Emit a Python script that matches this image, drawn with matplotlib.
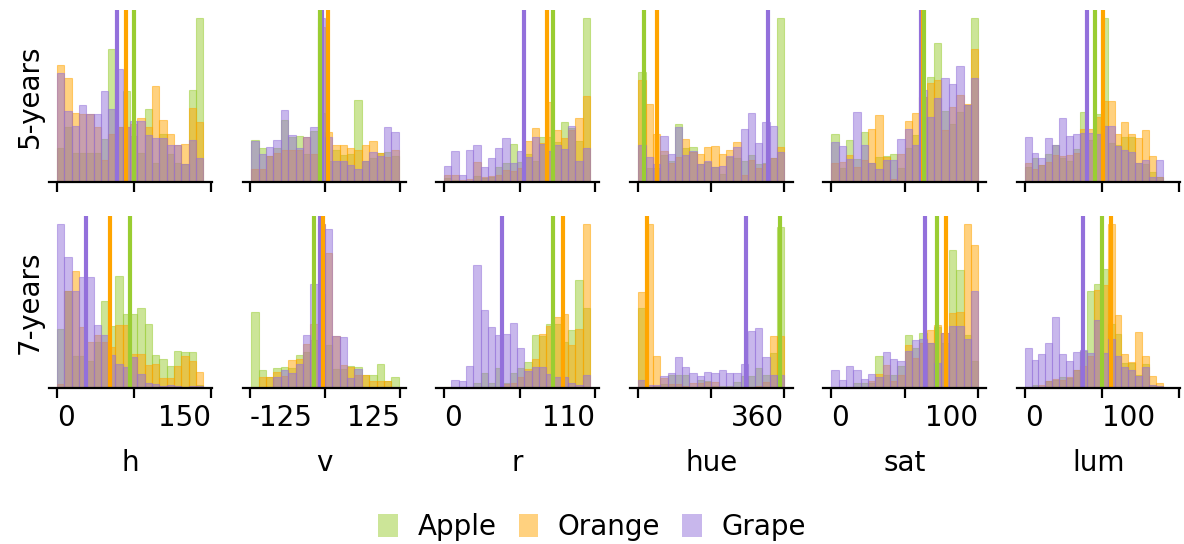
import numpy as np
import matplotlib.pyplot as plt
from matplotlib.patches import Patch

features = ["h", "v", "r", "hue", "sat", "lum"]
periods = ["5-years", "7-years"]
fruits = ["Apple", "Orange", "Grape"]
colors = ["yellowgreen", "orange", "mediumpurple"]

# bin range of the 20 bins in every column
bin_lo = [0, -122, 0, 0, 0, 0]
bin_hi = [142, 123, 106, 360, 100, 179.4]
x_limits = [(-7.8, 150.9), (-136.7, 135), (-5.8, 112.9), (-21.4, 381), (-5.5, 105.6), (-10.4, 201.6)]
tick_vals = [[0, 75, 150], [-125, 0, 125], [0, 55, 110], [0, 180, 360], [0, 50, 100], [0, 100, 200]]
tick_text = [["0", "", "150"], ["-125", "", "125"], ["0", "", "110"], ["", "", "360"], ["0", "", "100"], ["0", "100", ""]]

# bar heights, 5-years
h5_apple = [102, 162, 87, 87, 87, 87, 127, 395, 164, 270, 137, 87, 215, 57, 142, 82, 57, 52, 272, 485]
h5_orange = [347, 307, 205, 202, 200, 162, 65, 142, 164, 164, 172, 189, 164, 284, 185, 142, 109, 112, 219, 179]
h5_grape = [324, 209, 167, 227, 200, 202, 270, 215, 335, 164, 182, 180, 139, 129, 129, 110, 109, 52, 125, 72]
v5_apple = [132, 107, 80, 107, 194, 140, 143, 87, 159, 215, 64, 99, 84, 89, 257, 65, 75, 92, 95, 82]
v5_orange = [42, 42, 80, 90, 99, 100, 100, 140, 86, 485, 155, 117, 117, 105, 99, 117, 129, 92, 79, 101]
v5_grape = [129, 87, 110, 132, 224, 146, 107, 140, 173, 512, 142, 64, 64, 52, 39, 65, 95, 82, 172, 155]
r5_apple = [12, 7, 4, 4, 17, 12, 15, 44, 57, 113, 59, 82, 62, 134, 134, 117, 179, 159, 122, 485]
r5_orange = [22, 22, 7, 9, 59, 14, 17, 20, 35, 32, 42, 122, 161, 114, 236, 155, 129, 154, 189, 255]
r5_grape = [47, 92, 22, 95, 110, 44, 71, 101, 131, 57, 92, 74, 134, 112, 92, 110, 99, 167, 62, 102]
hue5_apple = [327, 42, 42, 80, 62, 172, 101, 104, 52, 59, 45, 25, 75, 70, 62, 80, 52, 55, 70, 485]
hue5_orange = [302, 230, 143, 92, 57, 74, 128, 90, 82, 104, 107, 82, 95, 119, 22, 64, 42, 54, 70, 104]
hue5_grape = [110, 74, 52, 137, 82, 164, 80, 92, 52, 62, 45, 47, 77, 104, 158, 203, 116, 179, 167, 89]
sat5_apple = [143, 42, 125, 67, 149, 56, 74, 77, 83, 42, 101, 140, 252, 311, 413, 209, 173, 206, 227, 485]
sat5_orange = [56, 59, 80, 44, 65, 158, 197, 74, 9, 82, 182, 203, 252, 293, 302, 155, 221, 257, 232, 395]
sat5_grape = [119, 107, 67, 206, 110, 56, 38, 65, 65, 128, 158, 110, 272, 192, 248, 308, 290, 344, 227, 308]
lum5_apple = [44, 71, 50, 83, 110, 72, 62, 98, 206, 125, 200, 485, 116, 110, 134, 134, 56, 52, 29, 14]
lum5_orange = [56, 38, 50, 59, 80, 77, 80, 86, 158, 158, 192, 239, 239, 143, 179, 143, 131, 155, 77, 14]
lum5_grape = [134, 86, 71, 131, 110, 188, 137, 143, 146, 146, 143, 167, 167, 107, 95, 89, 56, 65, 14, 65]

# bar heights, 7-years
h7_apple = [174, 288, 96, 96, 81, 136, 258, 183, 333, 221, 221, 236, 189, 98, 86, 66, 111, 106, 106, 9]
h7_orange = [13, 288, 346, 181, 136, 158, 136, 121, 186, 186, 101, 101, 69, 71, 31, 31, 66, 94, 81, 46]
h7_grape = [486, 389, 288, 328, 328, 186, 158, 98, 71, 61, 91, 41, 16, 13, 6, 9, 6, 3, 6, 6]
v7_apple = [231, 56, 33, 60, 63, 61, 102, 111, 147, 288, 131, 57, 57, 66, 63, 41, 39, 72, 21, 33]
v7_orange = [3, 33, 33, 48, 36, 87, 90, 135, 196, 501, 414, 159, 71, 64, 41, 41, 21, 21, 21, 0]
v7_grape = [0, 0, 0, 35, 54, 45, 72, 161, 318, 501, 486, 159, 156, 31, 57, 0, 0, 3, 0, 0]
r7_apple = [0, 0, 0, 3, 15, 45, 15, 60, 15, 45, 60, 78, 156, 153, 189, 189, 135, 171, 321, 237]
r7_orange = [3, 0, 0, 0, 0, 0, 0, 0, 13, 15, 33, 57, 87, 159, 183, 210, 219, 129, 174, 486]
r7_grape = [0, 24, 21, 66, 366, 231, 180, 156, 159, 192, 120, 51, 63, 63, 42, 33, 33, 15, 9, 39]
hue7_apple = [237, 0, 6, 12, 39, 39, 39, 3, 24, 21, 6, 6, 6, 18, 36, 36, 60, 39, 105, 477]
hue7_orange = [285, 486, 96, 30, 12, 12, 6, 15, 15, 18, 18, 3, 3, 3, 3, 3, 6, 18, 153, 153]
hue7_grape = [24, 9, 9, 36, 45, 93, 63, 45, 36, 48, 45, 54, 45, 45, 72, 168, 177, 93, 39, 39]
sat7_apple = [0, 0, 0, 15, 15, 15, 96, 39, 39, 66, 156, 120, 162, 132, 180, 132, 408, 351, 156, 81]
sat7_orange = [0, 0, 0, 0, 3, 21, 42, 69, 21, 39, 129, 90, 132, 171, 186, 162, 222, 225, 486, 423]
sat7_grape = [54, 24, 66, 54, 27, 42, 33, 108, 87, 81, 111, 141, 144, 132, 75, 162, 183, 183, 144, 288]
lum7_apple = [0, 9, 0, 21, 24, 33, 30, 54, 111, 288, 309, 354, 189, 159, 75, 75, 39, 72, 9, 6]
lum7_orange = [0, 3, 9, 21, 27, 24, 33, 54, 66, 94, 291, 306, 486, 216, 102, 78, 165, 96, 36, 15]
lum7_grape = [120, 84, 102, 132, 210, 102, 81, 108, 114, 105, 201, 105, 144, 96, 63, 54, 36, 63, 9, 6]

# medians (vertical lines)
med5_apple = [74.8, -7.8, 79.3, 14.6, 63.4, 90.8]
med5_orange = [67.0, 6.1, 74.8, 46.6, 62.5, 101.2]
med5_grape = [58.1, -4.0, 58.1, 319, 61.1, 81.0]
med7_apple = [70.8, -18.3, 79.3, 350, 71.8, 100.4]
med7_orange = [51.6, -3.3, 86.6, 20.4, 78.2, 112.0]
med7_grape = [28.2, -8.3, 42.2, 266.6, 63.9, 75.4]

heights = [
    [[h5_apple, h5_orange, h5_grape], [v5_apple, v5_orange, v5_grape], [r5_apple, r5_orange, r5_grape],
     [hue5_apple, hue5_orange, hue5_grape], [sat5_apple, sat5_orange, sat5_grape],
     [lum5_apple, lum5_orange, lum5_grape]],
    [[h7_apple, h7_orange, h7_grape], [v7_apple, v7_orange, v7_grape], [r7_apple, r7_orange, r7_grape],
     [hue7_apple, hue7_orange, hue7_grape], [sat7_apple, sat7_orange, sat7_grape],
     [lum7_apple, lum7_orange, lum7_grape]],
]
medians = [[med5_apple, med5_orange, med5_grape], [med7_apple, med7_orange, med7_grape]]

fig = plt.figure(figsize=(11.84, 5.44), dpi=100)
axes = fig.subplots(2, 6)
fig.subplots_adjust(left=0.0414, right=0.9966, top=0.9816, bottom=0.2868, wspace=0.185, hspace=0.198)

for i in range(2):
    for j in range(6):
        ax = axes[i, j]
        edges = np.linspace(bin_lo[j], bin_hi[j], 21)
        for k in range(3):
            ax.bar(edges[:-1], heights[i][j][k], width=np.diff(edges), align="edge",
                   color=colors[k], alpha=0.5, edgecolor=colors[k], linewidth=0.8)
        for k in [2, 1, 0]:
            ax.axvline(medians[i][k][j], color=colors[k], lw=3)
        ax.set_xlim(x_limits[j])
        ax.set_yticks([])
        for side in ["top", "right", "left"]:
            ax.spines[side].set_visible(False)
        ax.spines["bottom"].set_linewidth(1.6)
        ax.tick_params(axis="x", length=7.5, width=1.6, labelsize=20, pad=4)
        ax.set_xticks(tick_vals[j])
        if i == 1:
            ax.set_xticklabels(tick_text[j])
            labels = ax.get_xticklabels()
            labels[0].set_ha("left")
            labels[1].set_ha("left")
            labels[2].set_ha("right")
            ax.set_xlabel(features[j], fontsize=20, labelpad=12)
        else:
            ax.set_xticklabels([])
        if j == 0:
            ax.set_ylabel(periods[i], fontsize=20)

handles = [Patch(facecolor=c, alpha=0.5) for c in colors]
fig.legend(handles, fruits, loc="lower center", bbox_to_anchor=(0.5, -0.04), ncol=3, frameon=False,
           fontsize=20, handlelength=0.7, handleheight=0.9, handletextpad=0.7, columnspacing=0.8)

fig.savefig("out.png", dpi=100)
